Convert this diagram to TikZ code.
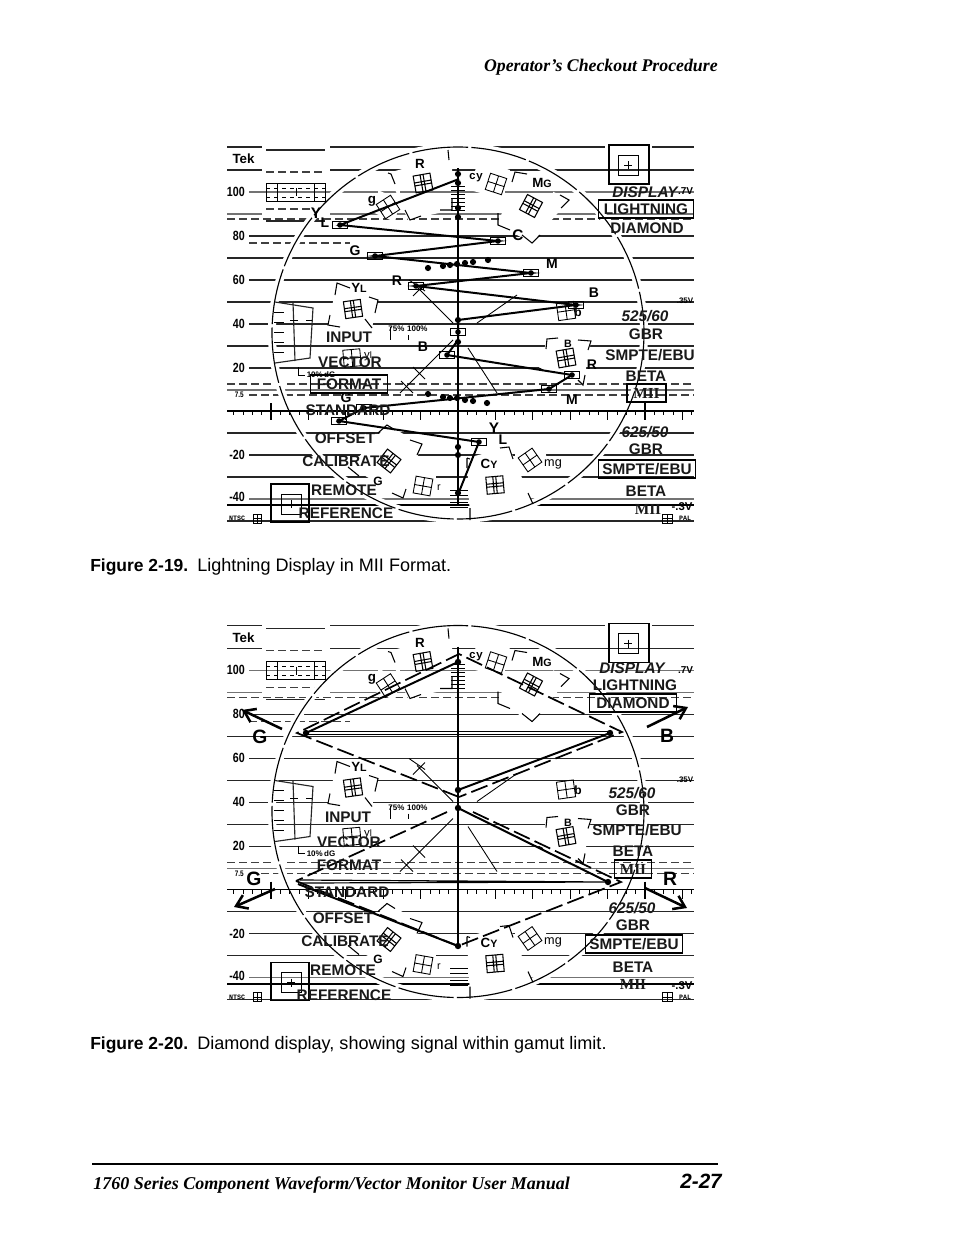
\documentclass[tikz,border=0pt]{standalone}
\usepackage{fontspec}
\setmainfont{Liberation Sans}
\newfontfamily\tms{Liberation Serif}
\newfontfamily\mono{Liberation Mono}
\newfontfamily\numf[FakeStretch=0.8]{Liberation Sans}
\usetikzlibrary{arrows.meta}
\tikzset{
 gl/.style={line width=0.85pt,black!85},
 gg/.style={line width=1pt,black!55},
 gd/.style={line width=0.8pt,black!75,dash pattern=on 6pt off 3pt},
 thin1/.style={line width=0.65pt},
 thin2/.style={line width=0.8pt},
 brk/.style={line width=0.8pt},
 lab/.style={font=\fontsize{11.5}{12}\selectfont\bfseries,inner sep=0pt,text=black!90},
 ilab/.style={font=\fontsize{11.5}{12}\selectfont\bfseries\itshape,inner sep=0pt,text=black!90},
 boxed/.style={draw,line width=1.1pt,minimum height=13.5pt,inner sep=0pt},
 tr/.style={font=\fontsize{10.5}{11}\selectfont\bfseries,inner sep=0pt},
 trbig/.style={font=\fontsize{14.5}{15}\selectfont\bfseries,inner sep=0pt},
 num/.style={font=\numf\fontsize{10}{11}\selectfont\bfseries,inner sep=0pt,anchor=east},
 tiny/.style={font=\mono\fontsize{5}{6}\selectfont\bfseries,inner sep=0pt},
 sigbox/.style={draw,rectangle,line width=1.1pt,minimum width=11.5pt,minimum height=5.5pt,inner sep=0pt},
 trace/.style={line width=1.5pt},
 sdash/.style={line width=1.3pt,dash pattern=on 13pt off 4pt},
 arr/.style={line width=1.9pt,-{Straight Barb[length=8pt,width=11pt,line width=1.9pt]}},
 vline/.style={line width=2pt},
 captxt/.style={font=\fontsize{13.55}{15}\selectfont,inner sep=0pt,anchor=base west},
 capb/.style={font=\fontsize{13.1}{15}\selectfont\bfseries,inner sep=0pt,anchor=base west}
}
\newcommand\tgt[3]{\draw[thin1,shift={(#1,#2)},rotate=#3] (-8.5,-8.5) rectangle (8.5,8.5) (0,-8.5)--(0,8.5) (-8.5,0)--(8.5,0);}
\newcommand\tgtd[3]{\draw[thin2,shift={(#1,#2)},rotate=#3] (-8.5,-8.5) rectangle (8.5,8.5) (-1.5,-8.5)--(-1.5,8.5) (1.5,-8.5)--(1.5,8.5) (-8.5,-1.5)--(8.5,-1.5) (-8.5,1.5)--(8.5,1.5);}
\newcommand\graticule[1]{%
 % horizontal rules
 \foreach \yy in {258,302,346,433,477}{\draw[gl] (227,\yy)--(694,\yy);}
 \foreach \yy in {236,280,324,368,455}{\draw[gl] (249,\yy)--(694,\yy);}
 \draw[gl] (227,147)--(262,147) (330,147)--(605,147) (652,147)--(694,147);
 \draw[gl] (266,150)--(325,150);
 \draw[gl] (227,170)--(262,170) (330,170)--(694,170);
 \draw[gd] (266,172)--(325,172) (266,209)--(325,209) (249,243)--(350,243);
 \draw[gg] (249,192)--(694,192);
 \draw[gg] (227,214)--(262,214) (330,214)--(694,214);
 \draw[gd] (227,219)--(694,219);
 \draw[gl] (266,221)--(325,221);
 \draw[gd] (227,384)--(694,384) (249,395)--(694,395);
 \draw[gg] (227,390)--(694,390);
 \draw[gg,line width=1.2pt] (249,499)--(694,499);
 \draw[line width=1.5pt] (227,505)--(694,505);
 \draw[gl] (227,521)--(694,521);
 % cleared areas
 \fill[white] (388,173)--(452,155)--(452,210)--(408,220)--cycle;
 \fill[white] (515,172)--(569,200)--(532,243)--(498,225)--cycle;
 \fill[white] (337,283)--(378,300)--(372,328)--(328,325)--cycle;
 \fill[white] (387,425)--(422,444)--(403,498)--(350,467)--cycle;
 \fill[white] (467,458)--(509,447)--(533,504)--(470,520)--cycle;
 \fill[white] (547,339)--(591,341)--(583,385)--(539,368)--cycle;
 \fill[white] (478,160)--(510,170)--(505,200)--(470,190)--cycle;
 \fill[white] (515,445)--(545,445)--(548,475)--(515,475)--cycle;
 \fill[white] (378,190)--(400,200)--(395,222)--(372,212)--cycle;
 \fill[white] (410,475)--(436,475)--(436,498)--(410,498)--cycle;
 \draw[white,line width=6pt] (458,333) circle[radius=186];
 \draw[gg] (348,192)--(378,192) (400,192)--(453,192) (505,192)--(553,192);
 % axis with ticks
 \draw[line width=1.3pt] (227,411)--(694,411);
 \foreach \i in {-24,...,25}{\draw[line width=0.6pt] ({458+\i*9.35},411)--++(0,4);}
 \foreach \i in {-5,...,6}{\draw[line width=0.7pt] ({458+\i*37.4},411)--++(0,9);}
 \foreach \i in {-5,5}{\draw[line width=1.2pt] ({458+\i*37.4},403)--({458+\i*37.4},420);}
 % circle
 \draw[line width=0.85pt,dash pattern=on 42pt off 2.5pt] (458,333) circle[radius=186];
 % left meter
 \draw[gl] (275,302)--(313,308)--(310,358)--(275,363);
 \draw[gl] (293,302)--(295,361);
 \foreach \yy in {312,322,332,342,352}{\draw[thin1] (274,\yy)--(284,\yy);}
 \draw[thin1] (290,320)--(298,320) (306,320)--(312,320);
 \draw[thin1] (298,367)--(298,375)--(305,375);
 \node[font=\fontsize{6}{6}\selectfont\bfseries,inner sep=0pt] (#1dg) at (321,375) {10\%\,dG};
 \node[font=\fontsize{6}{6}\selectfont\bfseries,inner sep=0pt] (#1pc) at (408,329) {75\%\,\,100\%};
 \draw[thin1] (390,327)--(390,340) (408,335)--(408,340);
 % scale box
 \draw[thin1] (266,183) rectangle (325,201) (277,183)--(277,201) (314,183)--(314,201);
 \draw[thin1,dashed] (266,188)--(325,188) (266,197)--(325,197);
 \draw[thin1] (296,188)--(296,196);
 % alignment boxes
 \draw[line width=0.8pt] (609,145) rectangle (649,184);
 \draw[thin1] (618,155) rectangle (638,175) (624,165)--(632,165) (628,161)--(628,169);
 \draw[line width=0.8pt] (271,484) rectangle (309,522);
 \draw[thin1] (281,494) rectangle (301,514) (287,504)--(295,504) (291,500)--(291,508);
 % axis crosses
 \draw[thin1] (453,323)--(417,287) (409,280)--(425,291) (413,296)--(425,284);
 \draw[thin1] (453,340)--(400,393) (413,367)--(425,379) (401,381)--(413,393);
 \draw[thin1] (468,348)--(497,393);
 \draw[thin1] (477,323)--(517,295);
 % brackets
 \draw[brk] (388,173)--(391,174)--(395,184) (448,150)--(449,160) (405,210)--(410,220)--(421,216) (440,210)--(452,210)--(452,198);
 \draw[brk] (512,182)--(515,172)--(527,174) (560,195)--(569,200)--(561,208) (498,213)--(498,225)--(510,230) (522,235)--(532,243)--(540,235);
 \draw[brk] (335,295)--(337,283)--(350,288) (369,297)--(378,300)--(375,313) (330,315)--(328,325)--(340,327) (365,319)--(372,328)--(372,328);
 \draw[brk] (378,433)--(387,425)--(395,430) (410,440)--(422,444)--(417,455) (348,467)--(359,476) (392,493)--(403,498)--(406,489);
 \draw[brk] (500,448)--(509,447)--(513,459) (467,458)--(467,468) (470,459)--(467,458) (528,493)--(533,504) (470,508)--(470,520);
 \draw[brk] (546,349)--(547,339)--(558,338) (578,340)--(591,341)--(588,350) (539,368)--(543,370) (578,380)--(583,385)--(585,375);
 % targets
 \tgtd{423}{183}{10}\tgt{388}{207}{33}\tgt{496}{184}{-18}\tgtd{531}{206}{-28}
 \tgtd{353}{309}{8}\tgt{566}{311}{8}\tgt{352}{358}{5}\tgtd{566}{358}{10}
 \tgtd{389}{461}{-38}\tgt{423}{486}{-10}\tgtd{495}{485}{5}\tgt{530}{460}{35}
 % graticule labels
 \node[tr,font=\fontsize{10}{11}\selectfont\bfseries] (#1lR) at (420,164) {R};
 \node[tr,font=\fontsize{10}{11}\selectfont\bfseries] (#1lg) at (372,201) {g};
 \node[font=\mono\fontsize{8.5}{9}\selectfont\bfseries,inner sep=0pt] (#1lcy) at (476,178) {cy};
 \node[tr,font=\fontsize{10}{11}\selectfont\bfseries] (#1lMg) at (542,183) {M\fontsize{8}{9}\selectfont G};
 \node[tr,font=\fontsize{10}{11}\selectfont\bfseries] (#1lYl) at (359,288) {Y\fontsize{8}{9}\selectfont L};
 \node[tr,font=\fontsize{9}{9}\selectfont\bfseries] (#1lb) at (578,312) {b};
 \node[tr,font=\fontsize{8}{9}\selectfont\bfseries] (#1lB) at (568,344) {B};
 \node[tr,font=\fontsize{8.5}{9}\selectfont] (#1lyl) at (368,356) {y\fontsize{7}{8}\selectfont l};
 \node[tr,font=\fontsize{9}{10}\selectfont\bfseries] (#1lG) at (378,481) {G};
 \node[tr,font=\fontsize{8}{9}\selectfont] (#1lr) at (439,488) {r};
 \node[tr,font=\fontsize{10}{11}\selectfont\bfseries] (#1lCy) at (489,464) {C\fontsize{8}{9}\selectfont Y};
 \node[tr,font=\fontsize{9.5}{10}\selectfont] (#1lmg) at (553,464) {mg};
 \node[font=\fontsize{10}{11}\selectfont\bfseries,inner sep=0pt] (#1tek) at (243.5,159) {Tek};
 \node[num] (#1n100) at (245,191.5) {100};
 \node[num] (#1n80) at (245,235.5) {80};
 \node[num] (#1n60) at (245,279.5) {60};
 \node[num] (#1n40) at (245,323.5) {40};
 \node[num] (#1n20) at (245,367.5) {20};
 \node[num,font=\numf\fontsize{6}{7}\selectfont\bfseries] (#1n75) at (244,395) {7.5};
 \node[num] (#1nm20) at (245,455) {-20};
 \node[num] (#1nm40) at (245,497) {-40};
 \node[font=\fontsize{7.5}{8}\selectfont\bfseries,inner sep=0pt] (#1v7) at (685.5,191.5) {.7V};
 \node[font=\fontsize{6}{7}\selectfont\bfseries,inner sep=0pt] (#1v35) at (685,301) {.35V};
 \node[font=\fontsize{8.5}{9}\selectfont\bfseries,inner sep=0pt] (#1v3) at (682,507) {-.3V};
 \node[tiny] (#1ntsc) at (237,518.5) {NTSC};
 \node[tiny] (#1pal) at (685,518.5) {PAL};
 \draw[thin1] (253,514) rectangle (261,523) (253,518.5)--(261,518.5) (257,514)--(257,523);
 \draw[thin1] (662,514) rectangle (672,523) (662,518.5)--(672,518.5) (667,514)--(667,523);
 % centre ticks
 \foreach \yy in {186,190,194,198,202,206,210}{\draw[thin1] (451,\yy)--(465,\yy);}
 \foreach \yy in {490,495,502,507}{\draw[thin1] (450,\yy)--(468,\yy);}
}
\begin{document}
\begin{tikzpicture}[x=0.75pt,y=-0.75pt]
\useasboundingbox (0,0) rectangle (954,1235);
\fill[white] (0,0) rectangle (954,1235);
% page furniture
\node[font=\tms\fontsize{13.35}{15}\selectfont\bfseries\itshape,inner sep=0pt,anchor=base east] (hdr) at (718,71) {Operator’s Checkout Procedure};
\node[capb] (c19a) at (90,571) {Figure 2-19.};
\node[captxt] (c19b) at (197,571) {Lightning Display in MII Format.};
\node[capb] (c20a) at (90,1049) {Figure 2-20.};
\node[captxt] (c20b) at (197,1049) {Diamond display, showing signal within gamut limit.};
\draw[line width=1.9pt] (92,1164)--(718,1164);
\node[font=\tms\fontsize{13.5}{15}\selectfont\bfseries\itshape,inner sep=0pt,anchor=base west] (ftr) at (93,1189) {1760 Series Component Waveform/Vector Monitor User Manual};
\node[font=\fontsize{15.5}{16}\selectfont\bfseries\itshape,inner sep=0pt,anchor=base east] (pg) at (722,1188) {2-27};

% ===== figure 2-19
\begin{scope}
\graticule{a}
\draw[vline] (458,168)--(458,505);
\node[sigbox] (yl) at (340,225) {};
\node[sigbox] (c) at (498,241) {};
\node[sigbox] (g) at (375,256) {};
\node[sigbox] (m) at (531,273) {};
\node[sigbox] (r) at (416,286) {};
\node[sigbox] (b) at (576,305) {};
\node[sigbox] (ctr) at (458,332) {};
\node[sigbox] (b2) at (447,355) {};
\node[sigbox] (r2) at (572,375) {};
\node[sigbox] (m2) at (549,389) {};
\node[sigbox] (g2) at (364,408) {};
\node[sigbox] (yl2) at (339,421) {};
\node[sigbox] (y3) at (479,442) {};
\coordinate (top) at (459,179);
\coordinate (cen) at (458,320);
\coordinate (cen2) at (458,340);
\coordinate (bot) at (459,492);
\draw[trace] (top)--(yl.center)--(c.center)--(g.center)--(m.center)--(r.center)--(b.center)--(cen)--(ctr.center)--(cen2)--(b2.center)--(r2.center)--(m2.center)--(g2.center)--(yl2.center)--(y3.center)--(bot);
\foreach \p in {yl,c,g,m,r,b,ctr,b2,r2,m2,g2,yl2,y3}{\fill (\p.center) circle[radius=2.8];}
\foreach \px/\py in {428/268,443/266,450/265,457/264,465/263,473/262,488/260,428/394,443/397,450/398,457/398,465/400,473/401,487/403,458/174,458/183,458/208,458/217,458/320,458/342,458/447,458/455,458/493}{\fill (\px,\py) circle[radius=3.1];}
% trace letters
\node[tr,font=\fontsize{11.5}{12}\selectfont\bfseries] (tY) at (316,213) {Y};
\node[tr] (tL) at (325,223) {L};
\node[tr] (tG) at (355,251) {G};
\node[tr,font=\fontsize{11.5}{12}\selectfont\bfseries] (tC) at (518,235) {C};
\node[tr] (tM) at (552,264) {M};
\node[tr] (tR) at (397,281) {R};
\node[tr] (tB) at (594,293) {B};
\node[tr] (tB2) at (423,347) {B};
\node[tr] (tR2) at (592,365) {R};
\node[tr] (tM2) at (572,400) {M};
\node[tr] (tG2) at (346,398) {G};
\node[tr,font=\fontsize{11.5}{12}\selectfont\bfseries] (tY3) at (494,428) {Y};
\node[tr] (tL3) at (503,440) {L};
% overlay text
\node[ilab] (a1) at (645,192) {DISPLAY};
\node[lab,boxed,minimum width=71pt] (a2) at (646,209) {LIGHTNING};
\node[lab] (a3) at (647,228) {DIAMOND};
\node[ilab] (a4) at (645,316) {525/60};
\node[lab] (a5) at (646,334) {GBR};
\node[lab] (a6) at (650,355) {SMPTE/EBU};
\node[lab] (a7) at (646,376) {BETA};
\node[lab,boxed,minimum width=29pt,font=\tms\fontsize{11.5}{12}\selectfont\bfseries] (a8) at (646.5,393) {MII};
\node[ilab] (a9) at (645,432) {625/50};
\node[lab] (a10) at (646,449) {GBR};
\node[lab,boxed,minimum width=73pt] (a11) at (647,469) {SMPTE/EBU};
\node[lab] (a12) at (646,491) {BETA};
\node[lab,font=\tms\fontsize{11.5}{12}\selectfont\bfseries] (a13) at (648,509) {MII};
\node[lab] (a14) at (349,337) {INPUT};
\node[lab] (a15) at (350,362) {VECTOR};
\node[lab,boxed,minimum width=58pt] (a16) at (349,384) {FORMAT};
\node[lab] (a17) at (348,410) {STANDARD};
\node[lab] (a18) at (345,438) {OFFSET};
\node[lab] (a19) at (346,461) {CALIBRATE};
\node[lab] (a20) at (344,490) {REMOTE};
\node[lab] (a21) at (346,513) {REFERENCE};
\end{scope}

% ===== figure 2-20
\begin{scope}[shift={(0,478.5)}]
\graticule{b}
\draw[vline] (458,168)--(458,467);
\end{scope}
\coordinate (dT) at (458,662);
\coordinate (dTo) at (459,654);
\coordinate (dL) at (306,733);
\coordinate (dLo) at (297,733);
\coordinate (dR) at (610,733);
\coordinate (dRo) at (622,732);
\coordinate (dC) at (458,790);
\coordinate (dCo) at (459,797);
\coordinate (dC2) at (458,808);
\coordinate (dC2o) at (447,812);
\coordinate (dC2r) at (473,812);
\coordinate (dL2) at (298,884);
\coordinate (dL2o) at (296,881);
\coordinate (dR2) at (608,882);
\coordinate (dR2o) at (621,882);
\coordinate (dB) at (458,946);
\draw[sdash] (dCo)--(dLo)--(dTo)--(dRo)--(dCo);
\draw[sdash] (dC2o)--(dL2o);
\draw[sdash] (dC2r)--(dR2o)--(dB);
\draw[sdash] (dL2o)--(dB);
\draw[trace] (dT)--(dL);
\draw[trace] (dR)--(dC);
\draw[line width=0.9pt] (dL)++(0,-1.6)--++(304,0) (dL)++(0,1.6)--++(304,0);
\draw[line width=0.9pt] (300,880)--(dR2) (300,883)--(dR2);
\draw[trace] (dC2)--(dR2);
\draw[trace] (dL2)--(dB);
\foreach \p in {dT,dL,dR,dC,dC2,dR2,dB}{\fill (\p) circle[radius=3.2];}
\coordinate (gA) at (282,729);
\coordinate (gB) at (242,710);
\coordinate (bA) at (647,727);
\coordinate (bB) at (688,707);
\coordinate (gC) at (275,889);
\coordinate (gD) at (234,907);
\coordinate (rA) at (645,888);
\coordinate (rB) at (687,908);
\draw[arr] (gA)--(gB);
\draw[arr] (bA)--(bB);
\draw[arr] (gC)--(gD);
\draw[arr] (rA)--(rB);
\node[trbig] (LG1) at (260,737) {G};
\node[trbig] (LB) at (667,736) {B};
\node[trbig] (LG2) at (254,879) {G};
\node[trbig] (LR) at (670,879) {R};
\node[ilab] (b1) at (632,668) {DISPLAY};
\node[lab] (b2n) at (635,685) {LIGHTNING};
\node[lab,boxed,minimum width=65pt] (b3) at (633,703) {DIAMOND};
\node[ilab] (b4) at (632,793) {525/60};
\node[lab] (b5) at (633,810) {GBR};
\node[lab] (b6) at (637,830) {SMPTE/EBU};
\node[lab] (b7) at (633,851) {BETA};
\node[lab,boxed,minimum width=28pt,font=\tms\fontsize{11.5}{12}\selectfont\bfseries] (b8) at (633,869) {MII};
\node[ilab] (b9) at (632,908) {625/50};
\node[lab] (b10) at (633,925) {GBR};
\node[lab,boxed,minimum width=73pt] (b11) at (634,944) {SMPTE/EBU};
\node[lab] (b12) at (633,967) {BETA};
\node[lab,font=\tms\fontsize{11.5}{12}\selectfont\bfseries] (b13) at (633,984) {MII};
\node[lab] (b14) at (348,817) {INPUT};
\node[lab] (b15) at (349,842) {VECTOR};
\node[lab] (b16) at (349,865) {FORMAT};
\node[lab] (b17) at (347,892) {STANDARD};
\node[lab] (b18) at (343,918) {OFFSET};
\node[lab] (b19) at (345,941) {CALIBRATE};
\node[lab] (b20) at (343,970) {REMOTE};
\node[lab] (b21) at (344,995) {REFERENCE};
\end{tikzpicture}
\end{document}
